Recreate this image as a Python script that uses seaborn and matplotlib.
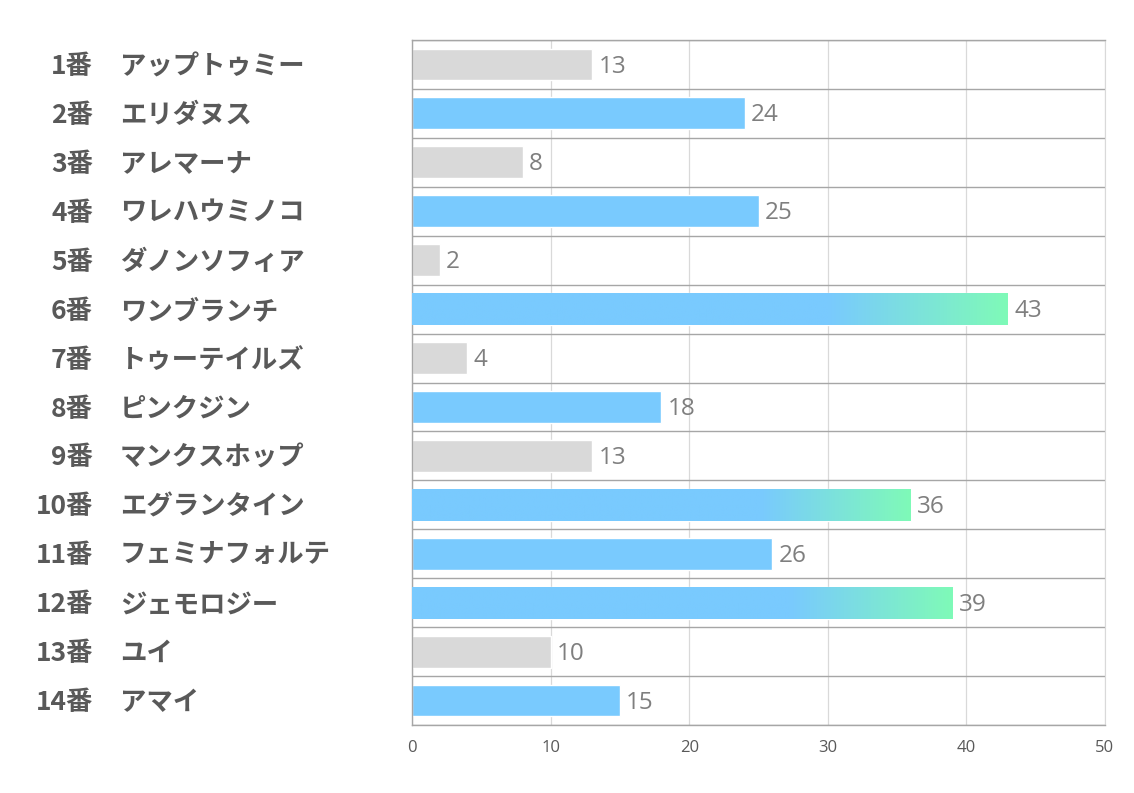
import numpy as np
import pandas as pd
import seaborn as sns
import matplotlib.pyplot as plt
import matplotlib.transforms as mtransforms
from matplotlib.colors import LinearSegmentedColormap

# データ
umaban = ["1番", "2番", "3番", "4番", "5番", "6番", "7番",
          "8番", "9番", "10番", "11番", "12番", "13番", "14番"]
names = ["アップトゥミー", "エリダヌス", "アレマーナ", "ワレハウミノコ", "ダノンソフィア",
         "ワンブランチ", "トゥーテイルズ", "ピンクジン", "マンクスホップ", "エグランタイン",
         "フェミナフォルテ", "ジェモロジー", "ユイ", "アマイ"]
values = [13, 24, 8, 25, 2, 43, 4, 18, 13, 36, 26, 39, 10, 15]
groups = ["gray", "blue", "gray", "blue", "gray", "grad", "gray",
          "blue", "gray", "grad", "blue", "grad", "gray", "blue"]
xticks = [0, 10, 20, 30, 40, 50]

BLUE = "#79CAFE"
GREEN = "#7FFAB8"
GRAY = "#D9D9D9"

df = pd.DataFrame({"label": [f"{u}　{n}" for u, n in zip(umaban, names)],
                   "value": values, "group": groups})

sns.set_style("white")
plt.rcParams["font.family"] = ["Noto Sans CJK JP", "DejaVu Sans"]

fig = plt.figure(figsize=(11.34, 7.93), dpi=100)
ax = fig.add_axes([412 / 1134, 1 - 725 / 793, 693 / 1134, 685 / 793])

sns.barplot(data=df, x="value", y="label", hue="group", orient="h",
            palette={"gray": GRAY, "blue": BLUE, "grad": BLUE}, saturation=1,
            dodge=False, width=0.65, legend=False, ax=ax, zorder=2)

# グラデーション（最後の約3割を水色→緑）
cmap = LinearSegmentedColormap.from_list("g", [(0, BLUE), (0.70, BLUE), (1, GREEN)])
grad = np.linspace(0, 1, 256).reshape(1, -1)
for p in ax.patches:
    w = p.get_width()
    y0 = p.get_y()
    h = p.get_height()
    idx = int(round(y0 + h / 2))
    if 0 <= idx < len(groups) and groups[idx] == "grad" and w > 0:
        im = ax.imshow(grad, cmap=cmap, aspect="auto", extent=(0, w, y0 + h, y0),
                       zorder=3, interpolation="bilinear")
        im.set_clip_path(p)

ax.set_xlim(0, 50)
ax.set_ylim(len(values) - 0.5, -0.5)

# 行の区切り線と縦グリッド
ax.set_xticks(xticks)
ax.set_xticklabels([str(t) for t in xticks], fontsize=12, color="#595959",
                   family=["Open Sans", "DejaVu Sans"])
ax.set_yticks(np.arange(-0.5, len(values), 1.0), minor=True)
ax.set_yticks([])
ax.grid(axis="x", which="major", color="#D9D9D9", linewidth=0.9, zorder=0)
ax.grid(axis="y", which="minor", color="#A6A6A6", linewidth=1.0, zorder=1)
ax.tick_params(axis="y", which="both", length=0)
ax.tick_params(axis="x", length=0, pad=11)
for side in ["top", "bottom", "left"]:
    ax.spines[side].set_color("#A6A6A6")
    ax.spines[side].set_linewidth(1.0)
ax.spines["right"].set_color("#D9D9D9")
ax.set_xlabel("")
ax.set_ylabel("")

# 数値ラベル
for i, v in enumerate(values):
    ax.annotate(str(v), xy=(v, i), xytext=(4.5, -1.5), textcoords="offset points",
                va="center", ha="left", fontsize=17.5, color="#7F7F7F",
                family=["Open Sans", "DejaVu Sans"])

# 左側の馬番・馬名
trans = mtransforms.blended_transform_factory(fig.transFigure, ax.transData)
for i, (u, n) in enumerate(zip(umaban, names)):
    ax.annotate(u, xy=(93 / 1134, i), xycoords=trans, xytext=(0, -1.5),
                textcoords="offset points", ha="right", va="center",
                fontsize=19, fontweight="bold", color="#595959")
    ax.annotate(n, xy=(120 / 1134, i), xycoords=trans, xytext=(0, -1.5),
                textcoords="offset points", ha="left", va="center",
                fontsize=19, fontweight="bold", color="#595959")

fig.savefig("out.png", dpi=100)
